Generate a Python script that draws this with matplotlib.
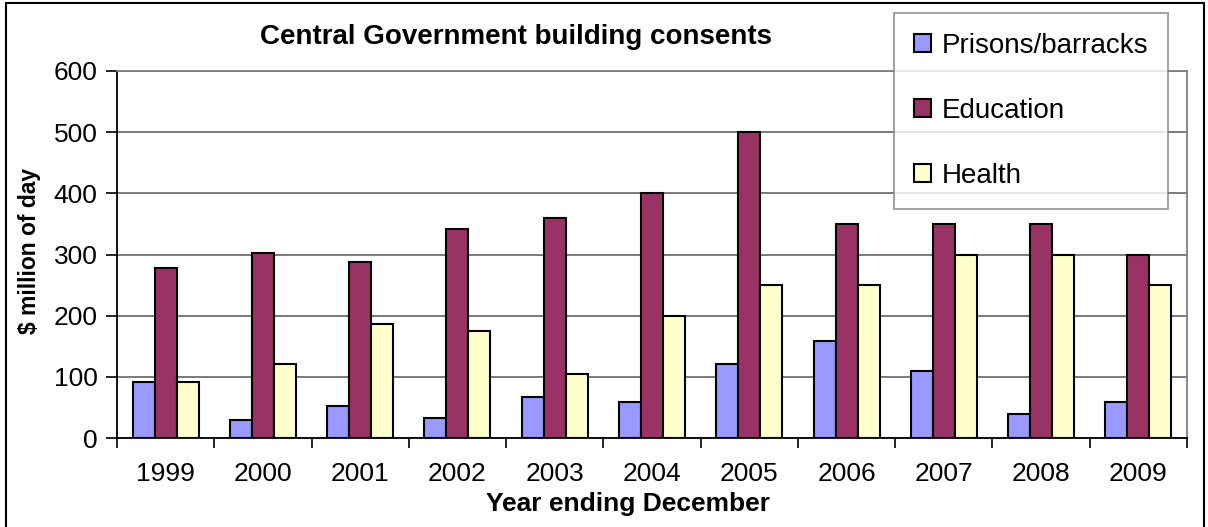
import numpy as np
import matplotlib.pyplot as plt
from matplotlib.patches import Rectangle

years = ["1999", "2000", "2001", "2002", "2003", "2004", "2005", "2006", "2007", "2008", "2009"]
prisons = [91, 30, 53, 32, 67, 59, 121, 159, 110, 40, 59]
education = [278, 302, 288, 342, 360, 400, 500, 350, 350, 350, 300]
health = [91, 121, 187, 175, 105, 200, 250, 250, 300, 300, 250]

series = [
    ("Prisons/barracks", prisons, "#9999FF"),
    ("Education", education, "#993366"),
    ("Health", health, "#FFFFCC"),
]

plt.rcParams["font.family"] = ["Liberation Sans", "DejaVu Sans"]

W, H = 1208, 527
fig = plt.figure(figsize=(W / 100, H / 100), dpi=100)
ax = fig.add_axes([117 / W, 1 - 438 / H, (1187 - 117) / W, (438 - 71) / H])

x = np.arange(len(years))
width = 0.226
handles = []
for i, (label, vals, color) in enumerate(series):
    b = ax.bar(x + (i - 1) * width, vals, width, color=color,
               edgecolor="black", linewidth=1.5, label=label, zorder=3)
    handles.append(b)

ax.set_xlim(-0.5, len(years) - 0.5)
ax.set_ylim(0, 600)
ax.set_yticks(np.arange(0, 601, 100))
ax.yaxis.grid(True, color="#707070", linewidth=1.3, zorder=0)

ax.set_xticks(x)
ax.set_xticklabels(years, fontsize=19)
ax.set_xticks(np.arange(-0.5, len(years)), minor=True)
ax.tick_params(axis="x", which="major", length=0, pad=17)
ax.tick_params(axis="x", which="minor", length=7, width=1.2, direction="out")
ax.tick_params(axis="y", labelsize=19, length=8, width=1.2, pad=6)

for side in ["top", "right"]:
    ax.spines[side].set_color("#808080")
    ax.spines[side].set_linewidth(1.3)
ax.spines["left"].set_linewidth(1.3)
ax.spines["bottom"].set_linewidth(1.3)

fig.text(516 / W, 1 - 37 / H, "Central Government building consents",
         ha="center", va="center", fontsize=20, fontweight="bold")
fig.text(30 / W, 1 - 251 / H, "$ million of day", rotation=90,
         ha="center", va="center", fontsize=16.5, fontweight="bold")
fig.text(628 / W, 1 - 504 / H, "Year ending December",
         ha="center", va="center", fontsize=19, fontweight="bold")

leg = fig.legend(handles=handles, loc="upper left",
                 bbox_to_anchor=(894 / W, 1 - 13 / H),
                 fontsize=20, frameon=True, fancybox=False,
                 handlelength=0.6, handleheight=0.6, handletextpad=0.4,
                 labelspacing=1.4, borderpad=0.72, borderaxespad=0)
leg.get_frame().set_edgecolor("#808080")
leg.get_frame().set_linewidth(1.3)

fig.patches.append(Rectangle((6 / W, -0.05), (1204 - 6) / W, 1.05 - 3 / H,
                             transform=fig.transFigure, fill=False,
                             edgecolor="black", linewidth=1.5))

fig.savefig("out.png", dpi=100)
